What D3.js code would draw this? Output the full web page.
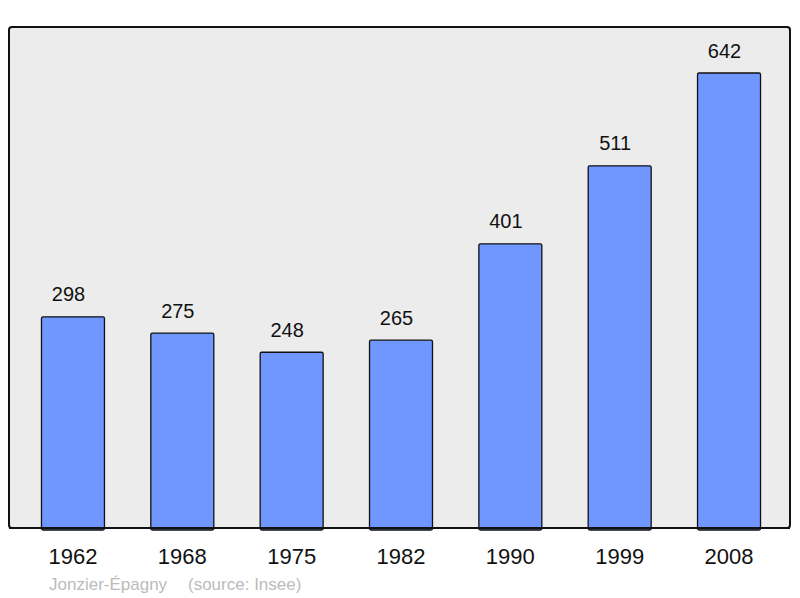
<!DOCTYPE html>
<html>
<head>
<meta charset="utf-8">
<script src="https://cdn.jsdelivr.net/npm/d3@7/dist/d3.min.js"></script>
<style>
  body { margin: 0; background: #fff; }
  text { font-family: "Liberation Sans", Arial, sans-serif; }
</style>
</head>
<body>
<svg width="800" height="598"></svg>
<script>
// population by census year
var years = ["1962", "1968", "1975", "1982", "1990", "1999", "2008"];
var population = [298, 275, 248, 265, 401, 511, 642];
var townName = "Jonzier-Épagny";
var sourceText = "(source: Insee)";

var svg = d3.select("svg");

var data = years.map(function(y, i) { return { year: y, value: population[i] }; });

// panel
svg.append("rect")
    .attr("x", 9).attr("y", 27)
    .attr("width", 781).attr("height", 501)
    .attr("rx", 3)
    .attr("fill", "#ececec")
    .attr("stroke", "#111")
    .attr("stroke-width", 2);

var x = d3.scaleBand()
    .domain(years)
    .range([18.3, 783.7])
    .paddingInner(0.424)
    .paddingOuter(0.212);

var y = d3.scaleLinear()
    .domain([0, 642])
    .range([528, 73]);

// bars
svg.selectAll("rect.bar")
    .data(data)
    .enter()
    .append("rect")
    .attr("class", "bar")
    .attr("x", function(d) { return x(d.year); })
    .attr("y", function(d) { return y(d.value); })
    .attr("width", x.bandwidth())
    .attr("height", function(d) { return y(0) - y(d.value) + 2; })
    .attr("rx", 1.5)
    .attr("fill", "#7096ff")
    .attr("stroke", "#111")
    .attr("stroke-width", 1.3);

// redraw bottom edge of panel over bars
svg.append("line")
    .attr("x1", 9).attr("x2", 790)
    .attr("y1", 528).attr("y2", 528)
    .attr("stroke", "#111").attr("stroke-width", 2);

// value labels
svg.selectAll("text.val")
    .data(data)
    .enter()
    .append("text")
    .attr("class", "val")
    .attr("x", function(d) { return x(d.year) + x.bandwidth() / 2 - 4.5; })
    .attr("y", function(d) { return y(d.value) - 15.5; })
    .attr("text-anchor", "middle")
    .attr("font-size", 20)
    .attr("fill", "#111")
    .text(function(d) { return d.value; });

// year axis
var xAxis = d3.axisBottom(x).tickSize(0).tickPadding(0);
var gx = svg.append("g")
    .attr("transform", "translate(0,548)")
    .call(xAxis);
gx.select(".domain").remove();
gx.selectAll("text")
    .attr("dy", "0.71em")
    .attr("font-size", 22)
    .attr("font-family", "Liberation Sans, Arial, sans-serif")
    .attr("fill", "#111");

// footer
svg.append("text")
    .attr("x", 49).attr("y", 590)
    .attr("font-size", 17)
    .attr("fill", "#bbbbbb")
    .text(townName);
svg.append("text")
    .attr("x", 188).attr("y", 590)
    .attr("font-size", 17)
    .attr("fill", "#bbbbbb")
    .text(sourceText);
</script>
</body>
</html>
